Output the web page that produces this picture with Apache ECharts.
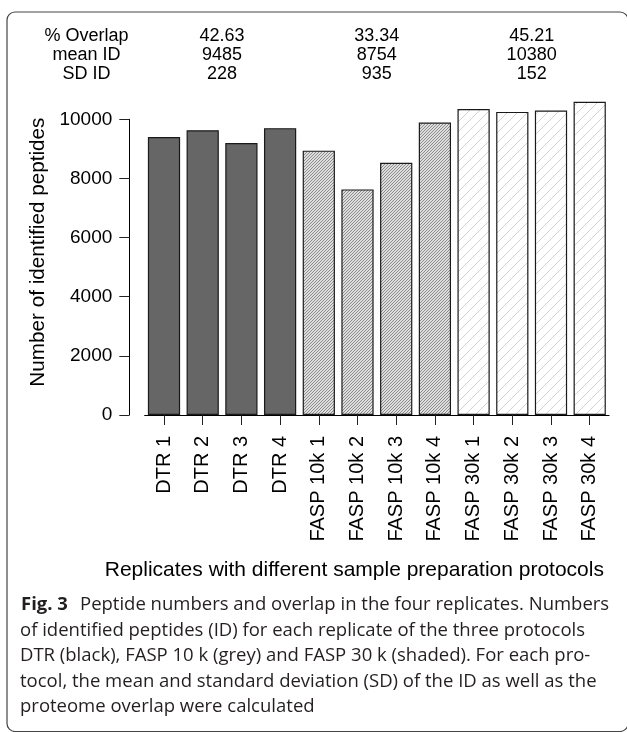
<!DOCTYPE html>
<html>
<head>
<meta charset="utf-8">
<script src="https://cdn.jsdelivr.net/npm/echarts@6/dist/echarts.min.js"></script>
<style>
html,body{margin:0;padding:0;background:#fff;}
#main{width:627px;height:732px;}
</style>
</head>
<body>
<div id="main"></div>
<script>
// ---- data ----
const categories = ['DTR 1','DTR 2','DTR 3','DTR 4','FASP 10k 1','FASP 10k 2','FASP 10k 3','FASP 10k 4','FASP 30k 1','FASP 30k 2','FASP 30k 3','FASP 30k 4'];
const peptides = [9400, 9630, 9200, 9700, 8940, 7630, 8530, 9890, 10350, 10250, 10300, 10590];
const protocolOfBar = ['DTR','DTR','DTR','DTR','F10','F10','F10','F10','F30','F30','F30','F30'];
const statLabels = ['% Overlap', 'mean ID', 'SD ID'];
const overlapPct = ['42.63', '33.34', '45.21'];
const meanID = ['9485', '8754', '10380'];
const sdID = ['228', '935', '152'];
const yTickInterval = 2000;
const yMax = 10000;
const xTitle = 'Replicates with different sample preparation protocols';
const yTitle = 'Number of identified peptides';
const captionBold = 'Fig. 3';
const captionLines = [
  'Peptide numbers and overlap in the four replicates. Numbers',
  'of identified peptides (ID) for each replicate of the three protocols',
  'DTR (black), FASP 10 k (grey) and FASP 30 k (shaded). For each pro-',
  'tocol, the mean and standard deviation (SD) of the ID as well as the',
  'proteome overlap were calculated'
];

// ---- fill patterns ----
function hatch(size, bg, line, lw) {
  const c = document.createElement('canvas');
  c.width = c.height = size;
  const g = c.getContext('2d');
  g.fillStyle = bg; g.fillRect(0, 0, size, size);
  g.strokeStyle = line; g.lineWidth = lw;
  g.beginPath();
  for (const o of [-size, 0, size]) { g.moveTo(o - 1, size + 1); g.lineTo(o + size + 1, -1); }
  g.stroke();
  return c;
}
const fills = {
  DTR: '#666666',
  F10: { image: hatch(3, '#dedede', '#8c8c8c', 1), repeat: 'repeat' },
  F30: { image: hatch(10, '#ffffff', '#d2d2d2', 1), repeat: 'repeat' }
};

const chart = echarts.init(document.getElementById('main'), null, { renderer: 'canvas' });
const FONT = '"Liberation Sans", Arial, sans-serif';

chart.setOption({
  backgroundColor: '#ffffff',
  animation: false,
  textStyle: { fontFamily: FONT, color: '#000' },
  grid: { left: 144.65, right: 17.95, top: 119.3, bottom: 317, containLabel: false, outerBoundsMode: 'none' },
  xAxis: {
    type: 'category',
    data: categories,
    axisLine: { show: true, lineStyle: { color: '#000', width: 1 } },
    axisTick: { show: true, alignWithLabel: true, length: 10, lineStyle: { color: '#222', width: 1 } },
    axisLabel: { rotate: 90, fontSize: 20, margin: 21, color: '#000', fontFamily: FONT, interval: 0 },
    name: xTitle,
    nameLocation: 'middle',
    nameGap: 145,
    nameTextStyle: { fontSize: 21, color: '#000', fontFamily: FONT, padding: [0, 45, 0, 0] }
  },
  yAxis: {
    type: 'value',
    min: 0,
    max: yMax,
    interval: yTickInterval,
    offset: 15.35,
    splitLine: { show: false },
    axisLine: { show: true, lineStyle: { color: '#000', width: 1 } },
    axisTick: { show: true, length: 10, lineStyle: { color: '#222', width: 1 } },
    axisLabel: { fontSize: 19, margin: 17, color: '#000', fontFamily: FONT, formatter: v => String(v) },
    name: yTitle,
    nameLocation: 'middle',
    nameGap: 74,
    nameTextStyle: { fontSize: 20.7, color: '#000', fontFamily: FONT, padding: [0, 0, 0, 30] }
  },
  series: [{
    type: 'bar',
    clip: false,
    barWidth: '83.3%',
    data: peptides.map((v, i) => ({
      value: v,
      itemStyle: { color: fills[protocolOfBar[i]], borderColor: '#1a1a1a', borderWidth: 1.2 }
    }))
  }]
});

// ---- annotations placed from the category scale ----
const px = i => chart.convertToPixel({ xAxisIndex: 0 }, i);
const band = px(1) - px(0);
const groupCenters = [ (px(1) + px(2)) / 2, (px(5) + px(6)) / 2, (px(9) + px(10)) / 2 ];
const labelX = px(0) - 2 * band;
const rowY = [36.5, 55.5, 74];
const rows = [overlapPct, meanID, sdID];
const graphics = [];
statLabels.forEach((t, r) => {
  graphics.push({ type: 'text', x: labelX, y: rowY[r], style: { text: t, font: '18px ' + FONT, fill: '#000', align: 'center', verticalAlign: 'middle' } });
  rows[r].forEach((v, g) => {
    graphics.push({ type: 'text', x: groupCenters[g], y: rowY[r], style: { text: v, font: '18px ' + FONT, fill: '#000', align: 'center', verticalAlign: 'middle' } });
  });
});

// caption
const CAP_FONT = '"Open Sans", "Noto Sans", sans-serif';
const mctx = document.createElement('canvas').getContext('2d');
mctx.font = '100px ' + CAP_FONT;
const capSize = Math.round(100 * 564 / mctx.measureText(captionLines[1]).width * 10) / 10;
const capY = [605, 630.5, 656, 681.5, 707];
graphics.push({ type: 'text', x: 21, y: capY[0], style: { text: captionBold, font: 'bold ' + capSize + 'px ' + CAP_FONT, fill: '#231f20', align: 'left', verticalAlign: 'middle' } });
captionLines.forEach((t, i) => {
  graphics.push({ type: 'text', x: i === 0 ? 80 : 20, y: capY[i], style: { text: t, font: capSize + 'px ' + CAP_FONT, fill: '#231f20', align: 'left', verticalAlign: 'middle' } });
});
// figure frame (right and bottom edges run just past the picture, as in the reference)
graphics.push({ type: 'rect', shape: { x: 7, y: 12, width: 621, height: 719.5, r: 8 }, style: { fill: null, stroke: '#444', lineWidth: 1.2 }, z: -1 });

chart.setOption({ graphic: graphics });
</script>
</body>
</html>
